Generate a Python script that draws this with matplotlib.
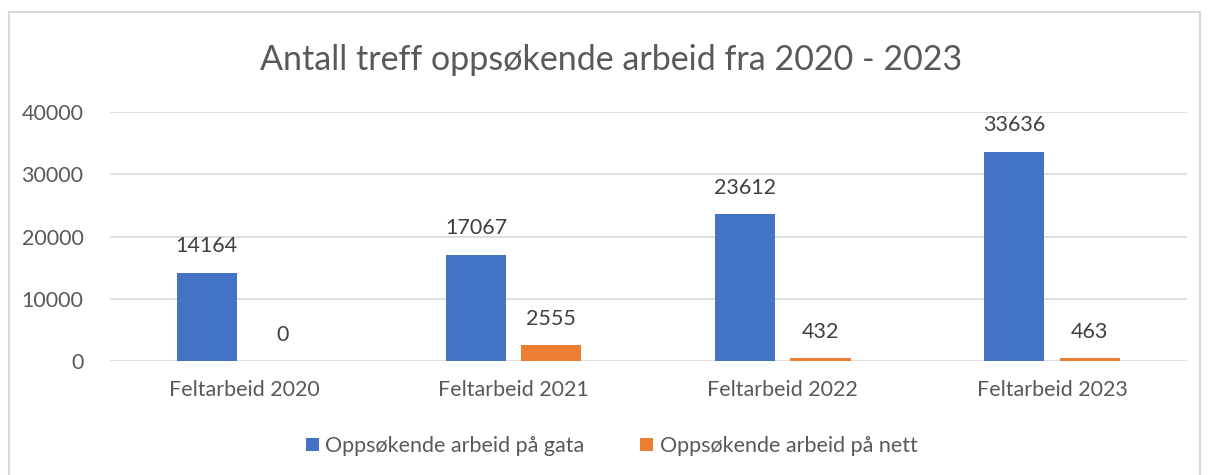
import matplotlib.pyplot as plt
from matplotlib.patches import Rectangle
import numpy as np

plt.rcParams['font.family'] = ['Lato', 'DejaVu Sans']

categories = ['Feltarbeid 2020', 'Feltarbeid 2021', 'Feltarbeid 2022', 'Feltarbeid 2023']
gata = [14164, 17067, 23612, 33636]
nett = [0, 2555, 432, 463]
series_names = ['Oppsøkende arbeid på gata', 'Oppsøkende arbeid på nett']
yticks = [0, 10000, 20000, 30000, 40000]

BLUE = '#4472C4'
ORANGE = '#ED7D31'
TEXT = '#595959'

fig = plt.figure(figsize=(12.11, 4.75), dpi=100)
ax = fig.add_axes([0.0908, 0.24, 0.889, 0.524])

fig.patches.append(Rectangle((9 / 1211, -0.01), 1191 / 1211, 1 - 12 / 475 + 0.01,
                             transform=fig.transFigure, fill=False,
                             edgecolor='#D9D9D9', linewidth=1.5))

x = np.arange(len(categories))
w = 0.223
off = 0.14
b1 = ax.bar(x - off, gata, w, color=BLUE, label=series_names[0], zorder=3)
b2 = ax.bar(x + off, nett, w, color=ORANGE, label=series_names[1], zorder=3)

for bars in (b1, b2):
    for r in bars:
        ax.annotate(str(int(r.get_height())), (r.get_x() + r.get_width() / 2, r.get_height()),
                    xytext=(0, 19), textcoords='offset points', ha='center', va='center',
                    fontsize=15.5, color='#404040')

ax.set_xlim(-0.5, len(categories) - 0.5)
ax.set_ylim(0, 40000)
ax.set_yticks(yticks)
ax.set_yticklabels([str(v) for v in yticks])
ax.set_xticks(x)
ax.set_xticklabels(categories)
ax.tick_params(axis='both', length=0, labelsize=15.5, colors=TEXT)
ax.tick_params(axis='x', pad=14)
ax.tick_params(axis='y', pad=19)
ax.grid(axis='y', color='#D9D9D9', linewidth=1.2, zorder=0)
for s in ax.spines.values():
    s.set_visible(False)

fig.text(0.505, 0.874, 'Antall treff oppsøkende arbeid fra 2020 - 2023', ha='center', va='center',
         fontsize=24.5, color=TEXT)

fig.legend(handles=[b1, b2], loc='center', bbox_to_anchor=(0.505, 0.061), ncol=2, frameon=False,
           fontsize=15.5, labelcolor=TEXT, handlelength=0.6, handleheight=0.6, handletextpad=0.3,
           columnspacing=2.6)

fig.savefig('out.png', dpi=100)
